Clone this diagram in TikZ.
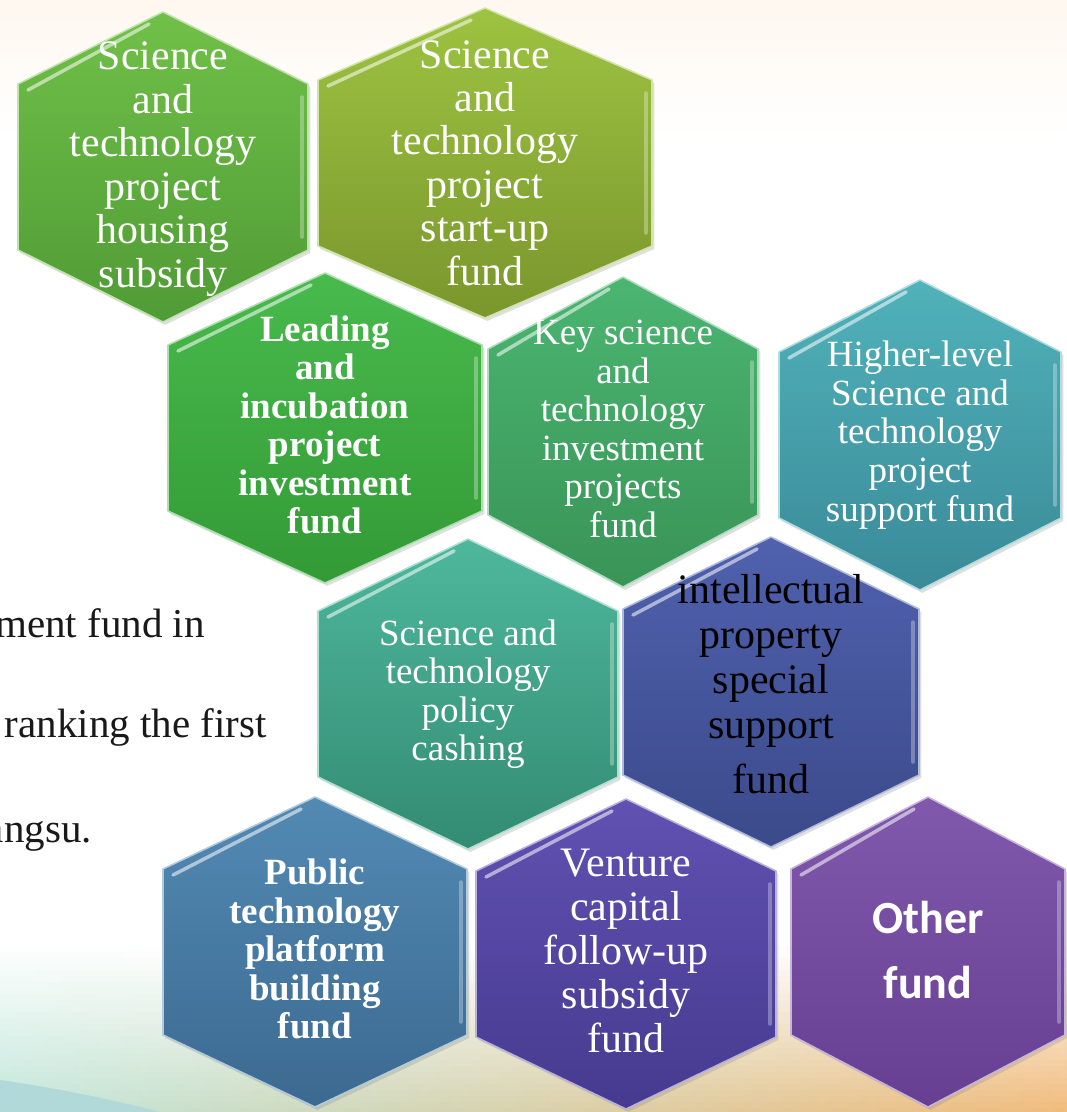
\documentclass[tikz,border=0pt]{standalone}
\usepackage{fontspec}
\setmainfont{Liberation Serif}
\newfontfamily\calibri{Carlito}
\usetikzlibrary{shadows}

\definecolor{housingtop}{HTML}{70C048}
\definecolor{housingbot}{HTML}{509B36}
\definecolor{startuptop}{HTML}{9DC341}
\definecolor{startupbot}{HTML}{7A962D}
\definecolor{leadingtop}{HTML}{48BA4C}
\definecolor{leadingbot}{HTML}{339A36}
\definecolor{keytop}{HTML}{4BB571}
\definecolor{keybot}{HTML}{399457}
\definecolor{highertop}{HTML}{50B2BA}
\definecolor{higherbot}{HTML}{3A8A98}
\definecolor{policytop}{HTML}{4EB89C}
\definecolor{policybot}{HTML}{338B73}
\definecolor{propertytop}{HTML}{5061AE}
\definecolor{propertybot}{HTML}{3B4A8A}
\definecolor{platformtop}{HTML}{528AB4}
\definecolor{platformbot}{HTML}{3C6990}
\definecolor{venturetop}{HTML}{6151B2}
\definecolor{venturebot}{HTML}{463A8F}
\definecolor{othertop}{HTML}{8058AC}
\definecolor{otherbot}{HTML}{663F92}
\definecolor{bandleft}{HTML}{BFE6DA}
\definecolor{bandmid}{HTML}{F8F3CF}
\definecolor{bandright}{HTML}{F0B978}

\tikzset{
x=0.03cm, y=-0.03cm,
cell/.style={line width=1.3pt, line join=round,
  drop shadow={opacity=0.25, shadow xshift=2pt, shadow yshift=-2.5pt}},
gloss/.style={white, opacity=0.55, line width=3pt, line cap=round},
cell text/.style={text=white, align=center, inner sep=0pt,
  font=\fontsize{35.8}{37.1}\selectfont},
small text/.style={cell text, font=\fontsize{31.6}{32.9}\selectfont},
bold text/.style={cell text, font=\bfseries\fontsize{31.6}{32.8}\selectfont},
side text/.style={anchor=base east, inner sep=0pt, text=black!90,
  font=\fontsize{35}{40}\selectfont},
}

% one hexagon: centre x, centre y, half width, top colour, bottom colour
\newcommand{\hexcell}[5]{%
  \begin{scope}[shift={(#1,#2)}]
    \draw[cell, top color=#4, bottom color=#5, draw=#4!45!white]
      (0,-155) -- (#3,-83) -- (#3,83) -- (0,155) -- (-#3,83) -- (-#3,-83) -- cycle;
    \draw[gloss] (-#3+10,-77) -- (-14,-143);
    \draw[gloss, opacity=0.3] (#3-6,-70) -- (#3-6,70);
  \end{scope}}

\begin{document}
\begin{tikzpicture}
            \useasboundingbox (0,0) rectangle (1067,1112);
            \clip (0,0) rectangle (1067,1112);

            % Background
            \fill[white] (0,0) rectangle (1067,1112);
            \fill[top color=orange!6!white, bottom color=white] (0,0) rectangle (1067,140);
            \foreach \k in {0,...,29} {
              \pgfmathtruncatemacro{\mix}{100*\k/29}
              \shade[left color=bandleft!\mix!white, middle color=bandmid!\mix!white,
                     right color=bandright!\mix!white] (0,940+6*\k) rectangle (1067,947+6*\k);
            }
            \fill[teal!30!white] (0,1080) .. controls (70,1090) and (130,1104) .. (160,1112)
                  -- (0,1112) -- cycle;

            % Text cut off at the left
            \node[side text] (intro1) at (205,637) {ment fund in};
            \node[side text] (intro2) at (267,737) {ranking the first};
            \node[side text] (intro3) at (92,842) {angsu.};

            % First row
            \hexcell{163}{167}{145}{housingtop}{housingbot}
            \hexcell{485}{163}{167}{startuptop}{startupbot}
            \node[cell text] (housing) at (163,169) {Science\\and\\technology\\project\\housing\\subsidy};
            \node[cell text] (startup) at (485,163) {Science\\and\\technology\\project\\start-up\\fund};

            % Second row
            \hexcell{325}{428}{157}{leadingtop}{leadingbot}
            \hexcell{623}{432}{135}{keytop}{keybot}
            \hexcell{920}{435}{141}{highertop}{higherbot}
            \node[bold text] (leading) at (325,425) {Leading\\and\\incubation\\project\\investment\\fund};
            \node[small text] (keyinvest) at (623,429) {Key science\\and\\technology\\investment\\projects\\fund};
            \node[small text] (higher) at (920,435) {Higher-level\\Science and\\technology\\project\\support fund};

            % Third row
            \hexcell{468}{694}{150}{policytop}{policybot}
            \hexcell{771}{692}{148}{propertytop}{propertybot}
            \node[small text] (policy) at (468,694) {Science and\\technology\\policy\\cashing};
            \node[cell text, text=black, font=\fontsize{35.8}{38.4}\selectfont] (property) at (771,684)
                  {intellectual\\property\\special\\support\\[8pt]fund};

            % Fourth row
            \hexcell{315}{952}{152}{platformtop}{platformbot}
            \hexcell{626}{954}{150}{venturetop}{venturebot}
            \hexcell{928}{952}{137}{othertop}{otherbot}
            \node[bold text] (platform) at (315,949) {Public\\technology\\platform\\building\\fund};
            \node[cell text, font=\fontsize{35.8}{37.6}\selectfont] (venture) at (626,951)
                  {Venture\\capital\\follow-up\\subsidy\\fund};
            \node[cell text, font=\calibri\bfseries\fontsize{39.3}{55.5}\selectfont] (other) at (928,950)
                  {Other\\fund};

     \end{tikzpicture}
\end{document}
